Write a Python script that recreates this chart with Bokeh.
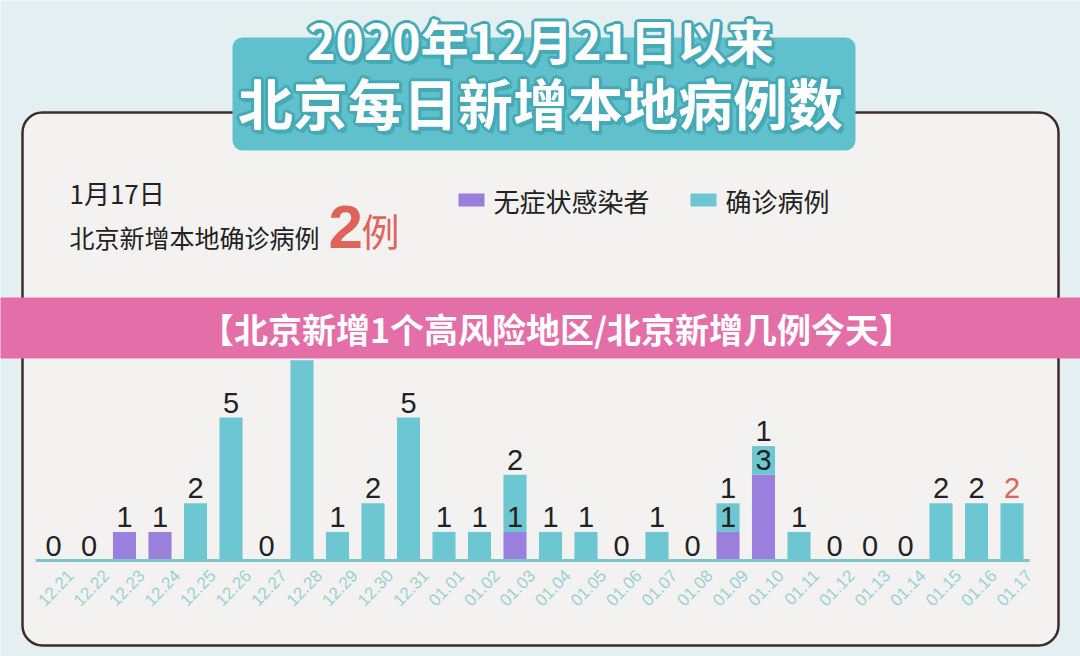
from bokeh.plotting import figure
from bokeh.models import Range1d, ColumnDataSource
from bokeh.core.properties import value
from bokeh.embed import file_html
from bokeh.resources import INLINE

# daily new local cases in Beijing since 2020-12-21
dates = ["12.21", "12.22", "12.23", "12.24", "12.25", "12.26", "12.27",
         "12.28", "12.29", "12.30", "12.31", "01.01", "01.02", "01.03",
         "01.04", "01.05", "01.06", "01.07", "01.08", "01.09", "01.10",
         "01.11", "01.12", "01.13", "01.14", "01.15", "01.16", "01.17"]
asymptomatic = [0, 0, 1, 1, 0, 0, 0, 0, 0, 0, 0, 0, 0, 1,
                0, 0, 0, 0, 0, 1, 3, 0, 0, 0, 0, 0, 0, 0]
confirmed = [0, 0, 0, 0, 2, 5, 0, 7, 1, 2, 5, 1, 1, 2,
             1, 1, 0, 1, 0, 1, 1, 1, 0, 0, 0, 2, 2, 2]

BG = "#e4eff1"
PANEL = "#f3f2f1"
BORDER = "#3e2c27"
TEAL = "#6cc7d2"
PURPLE = "#9a80dc"
TITLE_BOX = "#60c1cc"
PINK = "#e36ea8"
RED = "#e0635b"
CJK = "Noto Sans CJK SC"

W, H = 1080, 656
FB = 560           # baseline of the bars, px from top
X0, XS = 53, 35.5  # first bar centre and bar pitch, px
YS = 28.6          # px per case


def gx(px):
    return (px - X0) / XS


def gy(py):
    return (FB - py) / YS


p = figure(width=W, height=H, output_backend="svg", toolbar_location=None,
           x_range=Range1d(gx(0), gx(W)), y_range=Range1d(gy(H), gy(0)),
           x_axis_location=None, y_axis_location=None,
           min_border=0, background_fill_color=BG, border_fill_color=BG,
           outline_line_color=None)
p.grid.visible = False

# card behind the chart
p.quad(left=gx(22), right=gx(1058), top=gy(112), bottom=gy(645),
       fill_color=PANEL, line_color=BORDER, line_width=2.5, border_radius=20)

# title box
p.quad(left=gx(232), right=gx(855), top=gy(37), bottom=gy(150),
       fill_color=TITLE_BOX, line_color=None, border_radius=10)

title_lines = [("2020年12月21日以来", 540, 38, "48px"), ("北京每日新增本地病例数", 540, 100, "55px")]
for txt, tx, ty, fs in title_lines:
    for ox, oy in [(-2, -2), (0, -3), (2, -2), (-3, 0), (3, 0), (-2, 2), (0, 3), (2, 2), (3, 4)]:
        p.text(x=[gx(tx)], y=[gy(ty)], text=[txt], x_offset=ox, y_offset=oy,
               text_font=value(CJK), text_font_style="bold", text_font_size=fs,
               text_color="#45aab6", text_align="center", text_baseline="middle")
    p.text(x=[gx(tx)], y=[gy(ty)], text=[txt],
           text_font=value(CJK), text_font_style="bold", text_font_size=fs,
           text_color="white", text_align="center", text_baseline="middle")

# header note
p.text(x=[gx(69)], y=[gy(192)], text=["1月17日"], text_font=value(CJK), text_font_size="26px",
       text_color="#222222", text_baseline="middle")
p.text(x=[gx(69)], y=[gy(236)], text=["北京新增本地确诊病例"], text_font=value(CJK), text_font_size="25px",
       text_color="#222222", text_baseline="middle")
p.text(x=[gx(328)], y=[gy(226)], text=[str(confirmed[-1])], text_font=value("Liberation Sans"),
       text_font_style="bold", text_font_size="62px", text_color=RED, text_baseline="middle")
p.text(x=[gx(361)], y=[gy(229)], text=["例"], text_font=value(CJK),
       text_font_size="38px", text_color=RED, text_baseline="middle")

# legend
p.quad(left=[gx(458), gx(690)], right=[gx(484), gx(716)], top=[gy(193)] * 2, bottom=[gy(206)] * 2,
       fill_color=[PURPLE, TEAL], line_color=None)
p.text(x=[gx(493), gx(725)], y=[gy(200)] * 2, text=["无症状感染者", "确诊病例"],
       text_font=value(CJK), text_font_size="26px", text_color="#222222", text_baseline="middle")

# stacked bars
xs = list(range(len(dates)))
totals = [a + c for a, c in zip(asymptomatic, confirmed)]
p.vbar(x=xs, bottom=0, top=asymptomatic, width=0.65, fill_color=PURPLE, line_color=None)
p.vbar(x=xs, bottom=asymptomatic, top=totals, width=0.65, fill_color=TEAL, line_color=None)

lx, ly, lt, lc = [], [], [], []
for i in xs:
    a, c = asymptomatic[i], confirmed[i]
    if a == 0 and c == 0:
        lx.append(i); ly.append(0); lt.append("0"); lc.append("#222222")
    if a > 0:
        lx.append(i); ly.append(a); lt.append(str(a)); lc.append("#222222")
    if c > 0:
        lx.append(i); ly.append(a + c); lt.append(str(c))
        lc.append(RED if i == len(dates) - 1 else "#222222")
labels = ColumnDataSource(dict(x=lx, y=ly, text=lt, color=lc))
p.text(x="x", y="y", text="text", text_color="color", source=labels, y_offset=-5,
       text_font=value("Liberation Sans"), text_font_size="29px",
       text_align="center", text_baseline="bottom")

# x axis: baseline and slanted date labels
p.line(x=[-0.5, len(dates) - 0.5], y=[0, 0], line_color="#7cc6cd", line_width=3)
p.text(x=xs, y=[0] * len(xs), text=dates, angle=0.8, x_offset=17, y_offset=12,
       text_font=value("Liberation Sans"), text_font_size="17px", text_color="#98d1d6",
       text_align="right", text_baseline="middle")

# banner over the chart
p.quad(left=gx(-10), right=gx(W + 10), top=gy(297), bottom=gy(358), fill_color=PINK, line_color=None)
p.text(x=[gx(556)], y=[gy(328)], text=["【北京新增1个高风险地区/北京新增几例今天】"],
       text_font=value(CJK), text_font_style="bold", text_font_size="34px",
       text_color="white", text_align="center", text_baseline="middle")

open("out.html", "w").write(file_html(p, INLINE))
